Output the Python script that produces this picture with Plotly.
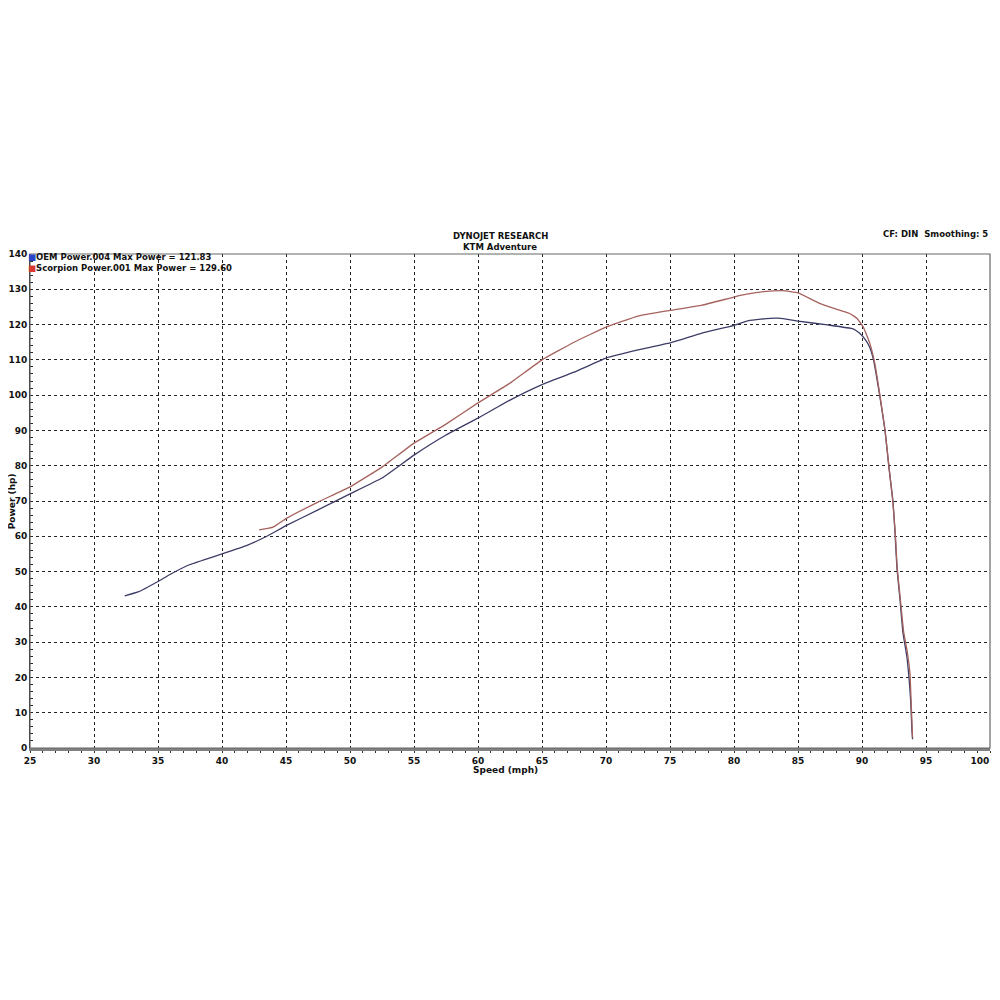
import plotly.graph_objects as go

# ---- data ----
oem_speed = [32.4, 33.5, 35, 36, 37.5, 40, 42, 43.5, 45, 47.5, 50, 52.5, 55, 57.5, 60, 62.5,
             65, 67.5, 70, 72.5, 75, 77.5, 80, 81, 82.5, 83.5, 85, 87.3, 89.3, 89.8, 90.3,
             90.6, 90.9, 91.4, 91.8, 92.1, 92.42, 92.58, 92.73, 92.97, 93.2, 93.5, 93.67,
             93.8, 93.9, 93.95]
oem_hp = [43.1, 44.3, 47.2, 49.3, 52.0, 55, 57.5, 60, 63, 67.5, 72, 76.5, 83, 88.7, 93.5, 98.6,
          103, 106.5, 110.5, 112.8, 114.8, 117.6, 119.8, 121, 121.7, 121.8, 121, 119.9, 118.8,
          117.6, 115.5, 113.6, 110, 99.5, 90, 79.6, 70, 61, 51, 42, 32.6, 26, 20, 13.6, 5, 2.5]

scorpion_speed = [42.9, 44, 45, 47.5, 50, 52.5, 55, 57.5, 60, 62.5, 65, 67.5, 70, 72.5, 75,
                  77.5, 80, 81, 82.5, 83.8, 85, 86.7, 88.3, 89, 89.6, 90.1, 90.6, 91.0, 91.4,
                  91.8, 92.1, 92.4, 92.6, 92.75, 93.0, 93.25, 93.55, 93.75, 93.85, 93.95]
scorpion_hp = [61.8, 62.6, 65, 69.7, 74, 79.6, 86.4, 91.8, 97.8, 103.4, 110, 115, 119.3, 122.4,
               124, 125.5, 127.8, 128.6, 129.4, 129.6, 129, 126, 124, 123.2, 121.8, 119.3,
               114.8, 109, 100, 90, 80, 70, 61, 51, 42, 33, 27, 21, 12, 3]

x_ticks = [25, 30, 35, 40, 45, 50, 55, 60, 65, 70, 75, 80, 85, 90, 95, 100]

legend_labels = ["OEM Power.004 Max Power = 121.83", "Scorpion Power.001 Max Power = 129.60"]
legend_colors = ["#2a44c8", "#d83a32"]
line_colors = ["#3c3c66", "#a5625e"]

title_lines = ["DYNOJET RESEARCH", "KTM Adventure"]
corner_text = "CF: DIN  Smoothing: 5"
x_title = "Speed (mph)"
y_title = "Power (hp)"

FONT = "DejaVu Sans"

fig = go.Figure()
fig.add_trace(go.Scatter(x=oem_speed, y=oem_hp, mode="lines",
                         line=dict(color=line_colors[0], width=1.3, shape="spline", smoothing=0.3),
                         showlegend=False))
fig.add_trace(go.Scatter(x=scorpion_speed, y=scorpion_hp, mode="lines",
                         line=dict(color=line_colors[1], width=1.3, shape="spline", smoothing=0.3),
                         showlegend=False))

legend_text = "<br>".join(
    f"<span style='color:{c}'>■</span><b>{t}</b>" for t, c in zip(legend_labels, legend_colors))

annotations = [
    dict(text=legend_text, xref="paper", yref="paper", x=0.0, y=1.0, xanchor="left",
         yanchor="top", align="left", showarrow=False, xshift=-4, yshift=4,
         font=dict(family=FONT, size=8.5, color="#111")),
    dict(text=f"<b>{title_lines[0]}</b>", xref="paper", yref="paper", x=0.49, y=1.0364,
         xanchor="center", yanchor="middle", showarrow=False,
         font=dict(family=FONT, size=8.5, color="#111")),
    dict(text=f"<b>{title_lines[1]}</b>", xref="paper", yref="paper", x=0.49, y=1.0142,
         xanchor="center", yanchor="middle", showarrow=False,
         font=dict(family=FONT, size=8.5, color="#111")),
    dict(text=f"<b>{corner_text}</b>", xref="paper", yref="paper", x=1.0005, y=1.0405,
         xanchor="right", yanchor="middle", showarrow=False,
         font=dict(family=FONT, size=8.5, color="#111")),
    dict(text=f"<b>{x_title}</b>", xref="paper", yref="paper", x=0.495, y=-0.045,
         xanchor="center", yanchor="middle", showarrow=False,
         font=dict(family=FONT, size=9, color="#111")),
    dict(text=f"<b>{y_title}</b>", xref="paper", yref="paper", x=-0.0185, y=0.5,
         xanchor="center", yanchor="middle", showarrow=False, textangle=-90,
         font=dict(family=FONT, size=9, color="#111")),
]

fig.update_layout(
    width=984, height=984,
    margin=dict(l=22, r=2, t=246, b=244, autoexpand=False),
    paper_bgcolor="white", plot_bgcolor="white",
    font=dict(family=FONT, color="#111"),
    annotations=annotations,
    shapes=[dict(type="rect", xref="paper", yref="paper", x0=0, x1=1, y0=0, y1=1,
                 line=dict(color="#666", width=1.2), layer="above")],
)

# last label padded so it stays inside the visible page
x_ticktext = [f"<b>{v}</b>" for v in x_ticks[:-1]] + [f"<b>{x_ticks[-1]}</b>" + "&nbsp;" * 7]

fig.update_xaxes(
    range=[25, 100], tickmode="array", tickvals=x_ticks, ticktext=x_ticktext,
    automargin=False,
    showgrid=True, gridcolor="#222", griddash="dot", gridwidth=1,
    showline=True, linecolor="#808080", linewidth=3,
    ticks="outside", ticklen=2, tickcolor="#333",
    minor=dict(dtick=1, tick0=25, ticks="outside", ticklen=2, tickcolor="#333", showgrid=False),
    tickfont=dict(family=FONT, size=9, color="#111"),
    ticklabeloverflow="allow",
    zeroline=False,
)
fig.update_yaxes(
    range=[0, 140], dtick=10, automargin=False,
    showgrid=True, gridcolor="#222", griddash="dot", gridwidth=1,
    showline=True, linecolor="#222", linewidth=1,
    ticks="inside", ticklen=3, tickcolor="#222",
    minor=dict(dtick=2, ticks="inside", ticklen=3, tickcolor="#222", showgrid=False),
    tickfont=dict(family=FONT, size=9, color="#111"),
    tickprefix="<b>", ticksuffix="</b>",
    zeroline=False,
)

fig.write_html("out.html")
